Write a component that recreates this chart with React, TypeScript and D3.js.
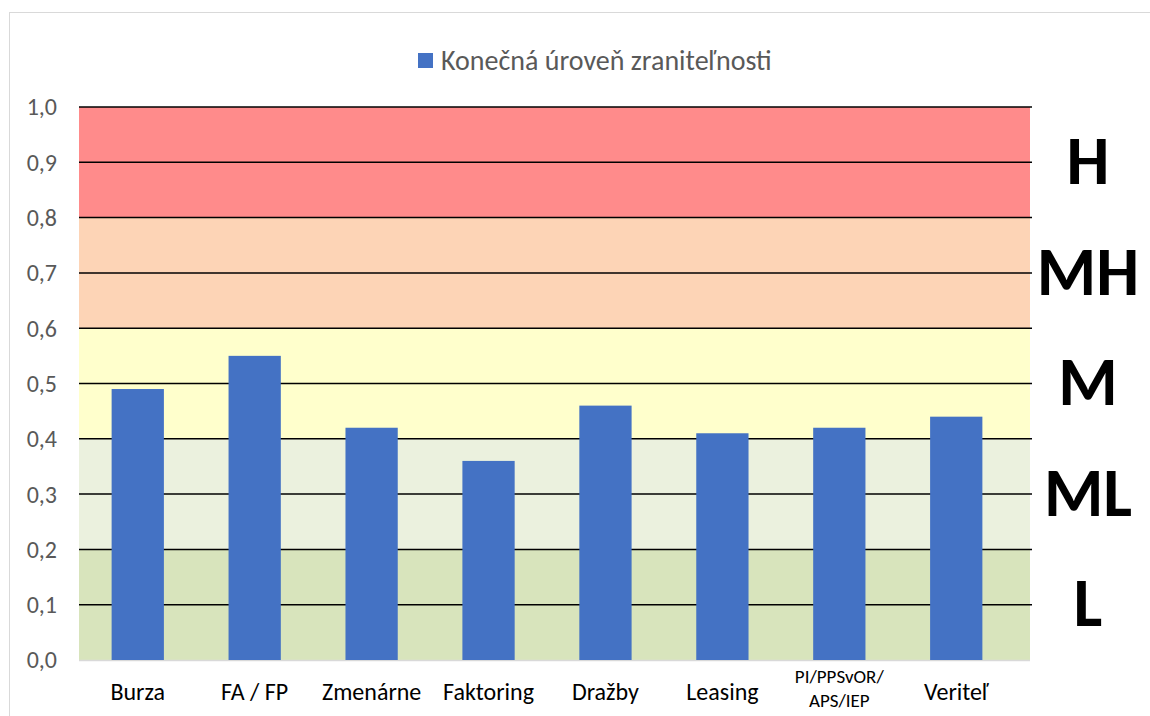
import React, { useEffect, useRef } from 'react';
import * as d3 from 'd3';

const categories = ['Burza', 'FA / FP', 'Zmenárne', 'Faktoring', 'Dražby', 'Leasing', 'PI/PPSvOR/\nAPS/IEP', 'Veriteľ'];
const values = [0.49, 0.55, 0.42, 0.36, 0.46, 0.41, 0.42, 0.44];
const yTicks = [0, 0.1, 0.2, 0.3, 0.4, 0.5, 0.6, 0.7, 0.8, 0.9, 1.0];
const bandNames = ['L', 'ML', 'M', 'MH', 'H'];
const bandEdges = [0, 0.2, 0.4, 0.6, 0.8, 1.0];
const bandColors = ['#d8e4bc', '#ebf1de', '#ffffcc', '#fdd4b6', '#ff8b8b'];
const seriesName = 'Konečná úroveň zraniteľnosti';

export default function App() {
  const ref = useRef<SVGSVGElement>(null);

  useEffect(() => {
    const width = 1150;
    const height = 716;
    const left = 79;
    const right = 1030;
    const top = 107;
    const bottom = 660;
    const font = 'Carlito, "Open Sans", "Liberation Sans", sans-serif';

    const svg = d3.select(ref.current);
    svg.selectAll('*').remove();
    svg.attr('width', width).attr('height', height);

    svg.append('rect')
      .attr('x', 9.5).attr('y', 12.5)
      .attr('width', 1160).attr('height', 720)
      .attr('fill', '#fff').attr('stroke', '#d9d9d9');

    const x = d3.scaleBand<string>().domain(categories).range([left, 1015]).paddingInner(0.553).paddingOuter(0.279);
    const y = d3.scaleLinear().domain([0, 1]).range([bottom, top]);

    // risk bands
    svg.append('g').selectAll('rect')
      .data(bandNames)
      .join('rect')
      .attr('x', left)
      .attr('width', right - left)
      .attr('y', (d, i) => y(bandEdges[i + 1]))
      .attr('height', (d, i) => y(bandEdges[i]) - y(bandEdges[i + 1]))
      .attr('fill', (d, i) => bandColors[i]);

    // gridlines
    svg.append('g').selectAll('line')
      .data(yTicks.filter((t) => t > 0))
      .join('line')
      .attr('x1', left).attr('x2', right + 2)
      .attr('y1', (d) => y(d)).attr('y2', (d) => y(d))
      .attr('stroke', '#000').attr('stroke-width', 1.5);

    svg.append('line')
      .attr('x1', left).attr('x2', right)
      .attr('y1', y(0) + 0.5).attr('y2', y(0) + 0.5)
      .attr('stroke', '#d9d9d9').attr('stroke-width', 1.5);

    // bars
    svg.append('g').selectAll('rect')
      .data(values)
      .join('rect')
      .attr('x', (d, i) => x(categories[i])!)
      .attr('width', x.bandwidth())
      .attr('y', (d) => y(d))
      .attr('height', (d) => y(0) - y(d))
      .attr('fill', '#4472c4');

    // y tick labels
    svg.append('g').selectAll('text')
      .data(yTicks)
      .join('text')
      .attr('x', 57)
      .attr('y', (d) => y(d))
      .attr('dy', '0.35em')
      .attr('text-anchor', 'end')
      .attr('font-family', font)
      .attr('font-size', 24)
      .attr('fill', '#595959')
      .text((d) => d3.format('.1f')(d).replace('.', ','));

    // x labels
    const xl = svg.append('g').selectAll('text')
      .data(categories)
      .join('text')
      .attr('x', (d) => x(d)! + x.bandwidth() / 2)
      .attr('text-anchor', 'middle')
      .attr('font-family', font)
      .attr('fill', '#000');
    xl.each(function (d) {
      const t = d3.select(this);
      const lines = d.split('\n');
      if (lines.length === 1) {
        t.attr('y', 692).attr('dy', '0.35em').attr('font-size', 24).text(d);
      } else {
        t.attr('font-size', 19);
        lines.forEach((ln, k) => {
          t.append('tspan')
            .attr('x', x(d)! + x.bandwidth() / 2)
            .attr('y', 676 + k * 24)
            .attr('dy', '0.35em')
            .text(ln);
        });
      }
    });

    // band labels
    svg.append('g').selectAll('text')
      .data(bandNames)
      .join('text')
      .attr('x', 1088)
      .attr('y', (d, i) => (y(bandEdges[i]) + y(bandEdges[i + 1])) / 2)
      .attr('dy', '0.32em')
      .attr('text-anchor', 'middle')
      .attr('font-family', 'Carlito, "Liberation Sans", Arial, sans-serif')
      .attr('font-weight', 'bold')
      .attr('font-size', 68)
      .attr('fill', '#000')
      .text((d) => d);

    // legend
    svg.append('rect')
      .attr('x', 418).attr('y', 53)
      .attr('width', 15).attr('height', 15)
      .attr('fill', '#4472c4');
    svg.append('text')
      .attr('x', 441).attr('y', 60)
      .attr('dy', '0.35em')
      .attr('font-family', font)
      .attr('font-size', 28)
      .attr('fill', '#595959')
      .text(seriesName);
  }, []);

  return <svg ref={ref} style={{ position: 'absolute', left: 0, top: 0 }}></svg>;
}
